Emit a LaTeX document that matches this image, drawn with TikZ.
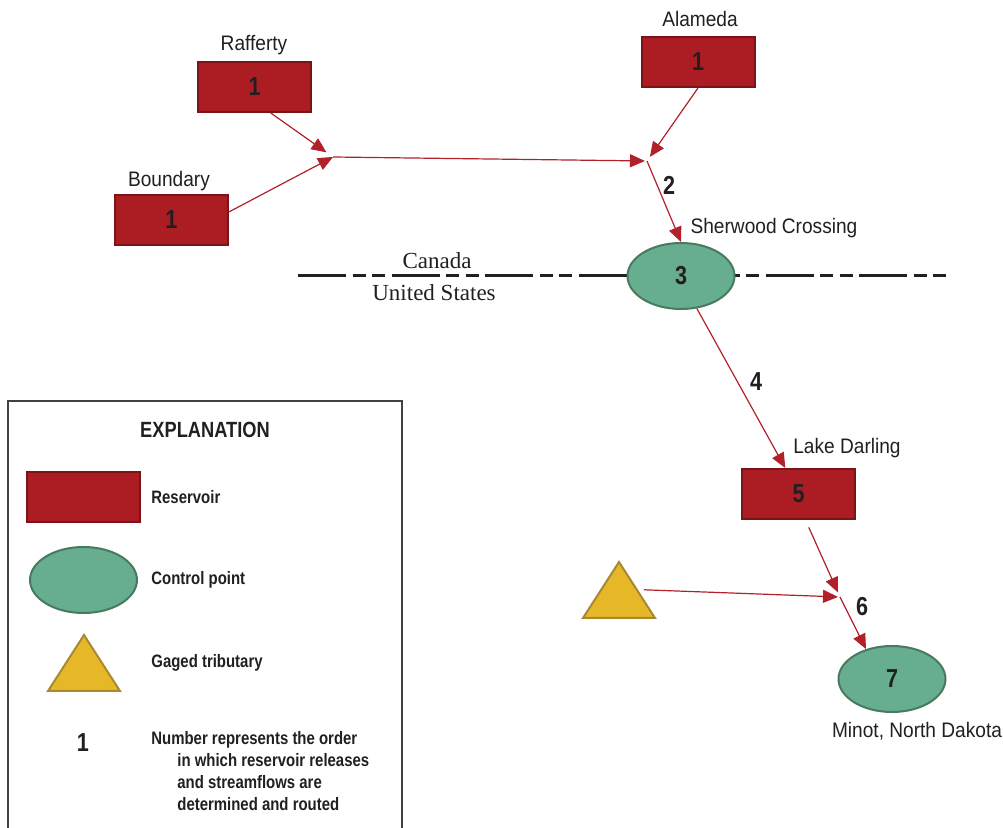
\documentclass[tikz,border=0pt]{standalone}
\usepackage{fontspec}
\setmainfont[FakeStretch=0.91]{Liberation Sans}
\newfontfamily\legendfont[FakeStretch=0.83]{Liberation Sans}
\newfontfamily\bordernames{Liberation Serif}
\usepackage{tikz}
\usetikzlibrary{shapes.geometric, arrows.meta, positioning}
\definecolor{reservoirred}{RGB}{172, 29, 35}
\definecolor{reservoiredge}{RGB}{122, 20, 24}
\definecolor{controlgreen}{RGB}{103, 173, 143}
\definecolor{controledge}{RGB}{72, 122, 96}
\definecolor{gageyellow}{RGB}{230, 184, 40}
\definecolor{gageedge}{RGB}{168, 136, 48}
\definecolor{flowred}{RGB}{178, 32, 42}
\definecolor{textgray}{RGB}{35, 31, 32}

\tikzset{
    reservoir/.style={draw=reservoiredge, fill=reservoirred, line width=1pt, minimum width=56.5pt, minimum height=25pt, inner sep=0pt, text=textgray, font=\legendfont\fontsize{13}{14}\selectfont\bfseries},
    control/.style={ellipse, draw=controledge, fill=controlgreen, line width=1pt, minimum width=53.5pt, minimum height=33pt, inner sep=0pt, text=textgray, font=\legendfont\fontsize{13}{14}\selectfont\bfseries},
    gaged/.style={isosceles triangle, isosceles triangle apex angle=65, isosceles triangle stretches, shape border rotate=90, draw=gageedge, fill=gageyellow, line width=1pt, minimum width=36pt, minimum height=28pt, inner sep=0pt},
    flow/.style={-{Triangle[length=7.5pt, width=6.5pt]}, flowred, line width=0.6pt},
    sitename/.style={text=textgray, font=\fontsize{10.5}{12}\selectfont},
    order/.style={text=textgray, font=\legendfont\fontsize{13}{14}\selectfont\bfseries},
    legendtext/.style={text=textgray, anchor=west, inner sep=0pt, font=\legendfont\fontsize{9}{11}\selectfont\bfseries},
}

\begin{document}
\begin{tikzpicture}[x=0.5pt, y=-0.5pt]
        \useasboundingbox (0,0) rectangle (1003,828);

        % International boundary
        \draw[textgray, line width=1.5pt, dash pattern=on 24pt off 3.25pt on 6.5pt off 3.25pt on 6.5pt off 3.25pt] (298,276) -- (948,276);
        \node[text=textgray, font=\bordernames\fontsize{11.5}{13}\selectfont] (canada) at (437,261) {Canada};
        \node[text=textgray, font=\bordernames\fontsize{11.5}{13}\selectfont] (unitedstates) at (434,293) {United States};

        % Reservoirs
        \node[reservoir] (raff) at (254.5,87) {1};
        \node[sitename] at (254,45) {Rafferty};
        \node[reservoir] (bound) at (171.5,220) {1};
        \node[sitename] at (169,181) {Boundary};
        \node[reservoir] (alam) at (698,62) {1};
        \node[sitename] at (700,19) {Alameda};
        \node[reservoir] (lake) at (798.5,494) {5};
        \node[sitename] at (847,448) {Lake Darling};

        % Control points
        \node[control] (sher) at (681,276) {3};
        \node[sitename] at (774,228) {Sherwood Crossing};
        \node[control] (minot) at (892,679) {7};
        \node[sitename] at (917,731) {Minot, North Dakota};

        % Gaged tributary
        \node[gaged, anchor=lower side] (trib) at (619,619) {};

        % Junctions
        \coordinate (j1) at (333,157);
        \coordinate (j2) at (647,161);
        \coordinate (j3) at (840,597);

        % Routing
        \draw[flow, shorten >=4pt] (raff.-58) -- (j1);
        \draw[flow] (bound.8) -- (j1);
        \draw[flow, shorten >=1pt] (j1) -- (j2);
        \draw[flow, shorten >=2.5pt] (alam.south) -- (j2);
        \draw[flow] (j2) -- (sher.north);
        \draw[flow] (sher.-64) -- (lake.117);
        \draw[flow, shorten <=4pt, shorten >=2.5pt] (lake.-75) -- (j3);
        \draw[flow, shorten <=3pt, shorten >=1pt] (trib.right side) -- (j3);
        \draw[flow] (j3) -- (minot.131);

        % Order numbers
        \node[order] at (669,185) {2};
        \node[order] at (756,382) {4};
        \node[order] at (862,607) {6};

        % Explanation
        \draw[textgray!85, line width=0.6pt] (8,828) -- (8,401) -- (402,401) -- (402,828);
        \node[text=textgray, font=\legendfont\fontsize{11}{12}\selectfont\bfseries] (explain) at (205,430) {EXPLANATION};
        \node[reservoir] (keyres) at (83.5,497) {};
        \node[legendtext] at (151,497) {Reservoir};
        \node[control] (keyctl) at (83.5,580) {};
        \node[legendtext] at (151,580) {Control point};
        \node[gaged, anchor=lower side] (keytrib) at (84,692) {};
        \node[legendtext] at (151,663) {Gaged tributary};
        \node[order] (keynum) at (83,743) {1};
        \node[legendtext, anchor=north west, align=left] at (151,731) {Number represents the order\\\hspace*{13pt}in which reservoir releases\\\hspace*{13pt}and streamflows are\\\hspace*{13pt}determined and routed};
\end{tikzpicture}
\end{document}
